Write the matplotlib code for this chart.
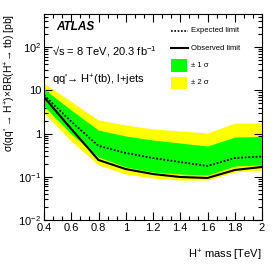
import matplotlib
matplotlib.use("Agg")
import matplotlib.pyplot as plt
import matplotlib.ticker as mticker
import numpy as np

plt.rcParams['font.family'] = ['Liberation Sans', 'DejaVu Sans']
plt.rcParams['mathtext.fontset'] = 'custom'
plt.rcParams['mathtext.rm'] = 'Liberation Sans'
plt.rcParams['mathtext.it'] = 'Liberation Sans:italic'
plt.rcParams['mathtext.bf'] = 'Liberation Sans:bold'

# data (mass in TeV, limits in pb)
mass = [0.4, 0.6, 0.8, 1.0, 1.2, 1.4, 1.6, 1.8, 2.0]
observed = [7.0, 1.28, 0.245, 0.151, 0.116, 0.099, 0.094, 0.144, 0.169]
expected = [7.8, 1.9, 0.52, 0.356, 0.272, 0.22, 0.178, 0.272, 0.295]
band1_up = [10.8, 3.5, 1.21, 0.88, 0.71, 0.606, 0.516, 0.834, 0.857]
band1_dn = [4.35, 0.98, 0.287, 0.169, 0.129, 0.116, 0.110, 0.178, 0.188]
band2_up = [14.8, 5.5, 2.07, 1.58, 1.28, 1.15, 1.03, 1.76, 1.76]
band2_dn = [3.0, 0.67, 0.188, 0.116, 0.094, 0.084, 0.084, 0.129, 0.144]

fig = plt.figure(figsize=(2.76, 2.65), dpi=100)
ax = fig.add_axes([44/276, 45/265, 218/276, 206/265])

ax.fill_between(mass, band2_dn, band2_up, color='#ffff00', lw=0, zorder=1)
ax.fill_between(mass, band1_dn, band1_up, color='#00ff00', lw=0, zorder=2)
ax.plot(mass, expected, color='black', lw=1.3, ls=(0, (1, 1)), zorder=3)
ax.plot(mass, observed, color='black', lw=1.5, zorder=4)

ax.set_yscale('log')
ax.set_xlim(0.4, 2.0)
ax.set_ylim(1e-2, 10**2.77)

ax.xaxis.set_major_locator(mticker.MultipleLocator(0.2))
ax.xaxis.set_minor_locator(mticker.AutoMinorLocator(3))
ax.yaxis.set_major_locator(mticker.LogLocator(base=10, numticks=10))
ax.yaxis.set_minor_locator(mticker.LogLocator(base=10, subs=np.arange(2, 10), numticks=20))
ax.yaxis.set_minor_formatter(mticker.NullFormatter())

def yfmt(v, pos):
    e = int(round(np.log10(v)))
    if e == 0:
        return '1'
    if e == 1:
        return '10'
    return r'$10^{%d}$' % e
ax.yaxis.set_major_formatter(mticker.FuncFormatter(yfmt))

def xfmt(v, pos):
    s = ('%.1f' % v)
    if s.endswith('.0'):
        s = s[:-2]
    return s
ax.xaxis.set_major_formatter(mticker.FuncFormatter(xfmt))

ax.tick_params(which='both', direction='in', top=True, right=True, labelsize=8, pad=2)
ax.tick_params(which='major', length=6, width=0.8)
ax.tick_params(which='minor', length=3, width=0.8)
for s in ax.spines.values():
    s.set_linewidth(0.8)

ax.set_ylabel("σ(qq' → H$^{+}$)×BR(H$^{+}$→ tb) [pb]", fontsize=7.5, loc='top', labelpad=0)
ax.yaxis.set_label_coords(-0.118, 1.0)
ax.set_xlabel("H$^{+}$ mass [TeV]", fontsize=8, loc='right', labelpad=11)

fig.text(56/276, 1 - 27/265, 'ATLAS', fontsize=8.5, fontweight='bold', fontstyle='italic', va='center', ha='left')
fig.text(52/276, 1 - 52/265, '√s = 8 TeV, 20.3 fb$^{-1}$', fontsize=8, va='center', ha='left')
fig.text(52/276, 1 - 80/265, "qq'→ H$^{+}$(tb), l+jets", fontsize=8, va='center', ha='left')

# legend (drawn manually in figure pixels)
def fx(p):
    return p/276
def fy(p):
    return 1 - p/265
from matplotlib.lines import Line2D
from matplotlib.patches import Rectangle
fig.add_artist(Line2D([fx(171), fx(188)], [fy(31), fy(31)], color='black', lw=1.2, ls=(0, (1, 1))))
fig.add_artist(Line2D([fx(171), fx(188)], [fy(48), fy(48)], color='black', lw=1.5))
fig.add_artist(Rectangle((fx(171), fy(72)), fx(16), 13/265, color='#00ff00', lw=0))
fig.add_artist(Rectangle((fx(171), fy(89)), fx(16), 12/265, color='#ffff00', lw=0))
fig.text(fx(191), fy(31), 'Expected limit', fontsize=5.5, va='center', ha='left')
fig.text(fx(191), fy(48), 'Observed limit', fontsize=5.5, va='center', ha='left')
fig.text(fx(191), fy(66), '± 1 σ', fontsize=5.5, va='center', ha='left')
fig.text(fx(191), fy(83), '± 2 σ', fontsize=5.5, va='center', ha='left')

fig.savefig('out.png', dpi=100)
